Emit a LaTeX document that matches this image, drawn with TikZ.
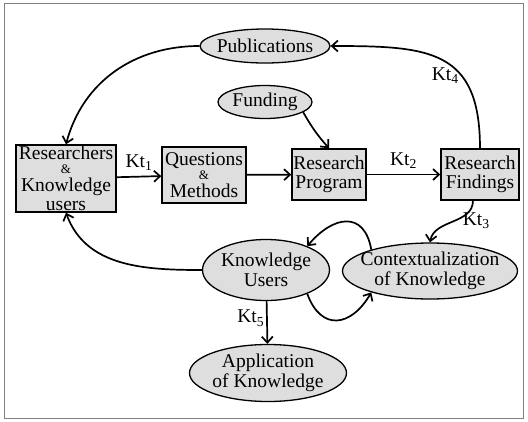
\documentclass[tikz,border=0pt]{standalone}
\usepackage{fontspec}
\setmainfont{Liberation Serif}
\usepackage{tikz}
\usetikzlibrary{shapes.geometric,arrows.meta}

\definecolor{boxgray}{RGB}{222,222,222}
\newcommand{\andsign}{{\fontsize{13}{13}\selectfont\&}}

\tikzset{
  box/.style={draw, line width=1.5pt, fill=boxgray, align=center, inner sep=1pt},
  oval/.style={ellipse, draw, line width=1.3pt, fill=boxgray, inner sep=0pt},
  ovaltext/.style={align=center, inner sep=0pt, font=\fontsize{19.5}{20.5}\selectfont},
  flow/.style={-{Straight Barb[length=6pt,width=11pt]}, line width=1.7pt},
  kt/.style={inner sep=2pt}
}

\begin{document}
\begin{tikzpicture}[x=1pt,y=1pt,font=\fontsize{19.5}{19}\selectfont]
  \useasboundingbox (0,0) rectangle (528,-421);
  \draw[line width=1pt, gray] (4,-3) rectangle (523,-418);

  \node[oval, minimum width=130pt, minimum height=34pt, label={[ovaltext]center:Publications}] (pub) at (265,-46) {};
  \node[oval, minimum width=94pt, minimum height=33pt, label={[ovaltext]center:Funding}] (fund) at (265,-102) {};
  \node[box, minimum width=100pt, minimum height=67pt] (rk) at (66,-178.5) {Researchers\\[-5pt]\andsign\\[-1pt]Knowledge\\users};
  \node[box, minimum width=84pt, minimum height=56pt] (qm) at (204,-175) {Questions\\[-5pt]\andsign\\[-1pt]Methods};
  \node[box, minimum width=74pt, minimum height=51pt] (rp) at (329,-174.5) {Research\\Program};
  \node[box, minimum width=78pt, minimum height=51pt] (rf) at (480,-174.5) {Research\\Findings};
  \node[oval, minimum width=127pt, minimum height=61pt, label={[ovaltext]center:Knowledge\\Users}] (ku) at (266,-270) {};
  \node[oval, minimum width=175pt, minimum height=56pt, label={[ovaltext]center:Contextualization\\of Knowledge}] (ctx) at (430,-271) {};
  \node[oval, minimum width=157pt, minimum height=57pt, label={[ovaltext]center:Application\\of Knowledge}] (app) at (268,-373) {};

  \draw[flow] (pub.west) to[out=180,in=75] (rk.north);
  \draw[flow] (rf.north) to[out=90,in=0,looseness=1.4] node[kt,pos=0.35,left] {Kt\textsubscript{4}} (pub.east);
  \draw[flow] (fund.-15) to[bend right=6] (rp.north);
  \draw[flow] (rk) -- node[kt,above=3pt] {Kt\textsubscript{1}} (qm);
  \draw[flow] (qm) -- (rp);
  \draw[flow] (rp) -- node[kt,above=3pt] {Kt\textsubscript{2}} (rf);
  \draw[flow] (rf.-105) to[out=-90,in=80] node[kt,pos=0.45,right=4pt] {Kt\textsubscript{3}} (ctx.north);
  \draw[flow] (ku) to[out=180,in=-70] (rk.south);
  \draw[flow] (ctx.160) to[out=100,in=50,looseness=1.6] (ku.30);
  \draw[flow] (ku.-30) to[out=-70,in=-120,looseness=1.6] (ctx.-160);
  \draw[flow] (ku) -- node[kt,left,pos=0.4] {Kt\textsubscript{5}} (app);
\end{tikzpicture}
\end{document}
